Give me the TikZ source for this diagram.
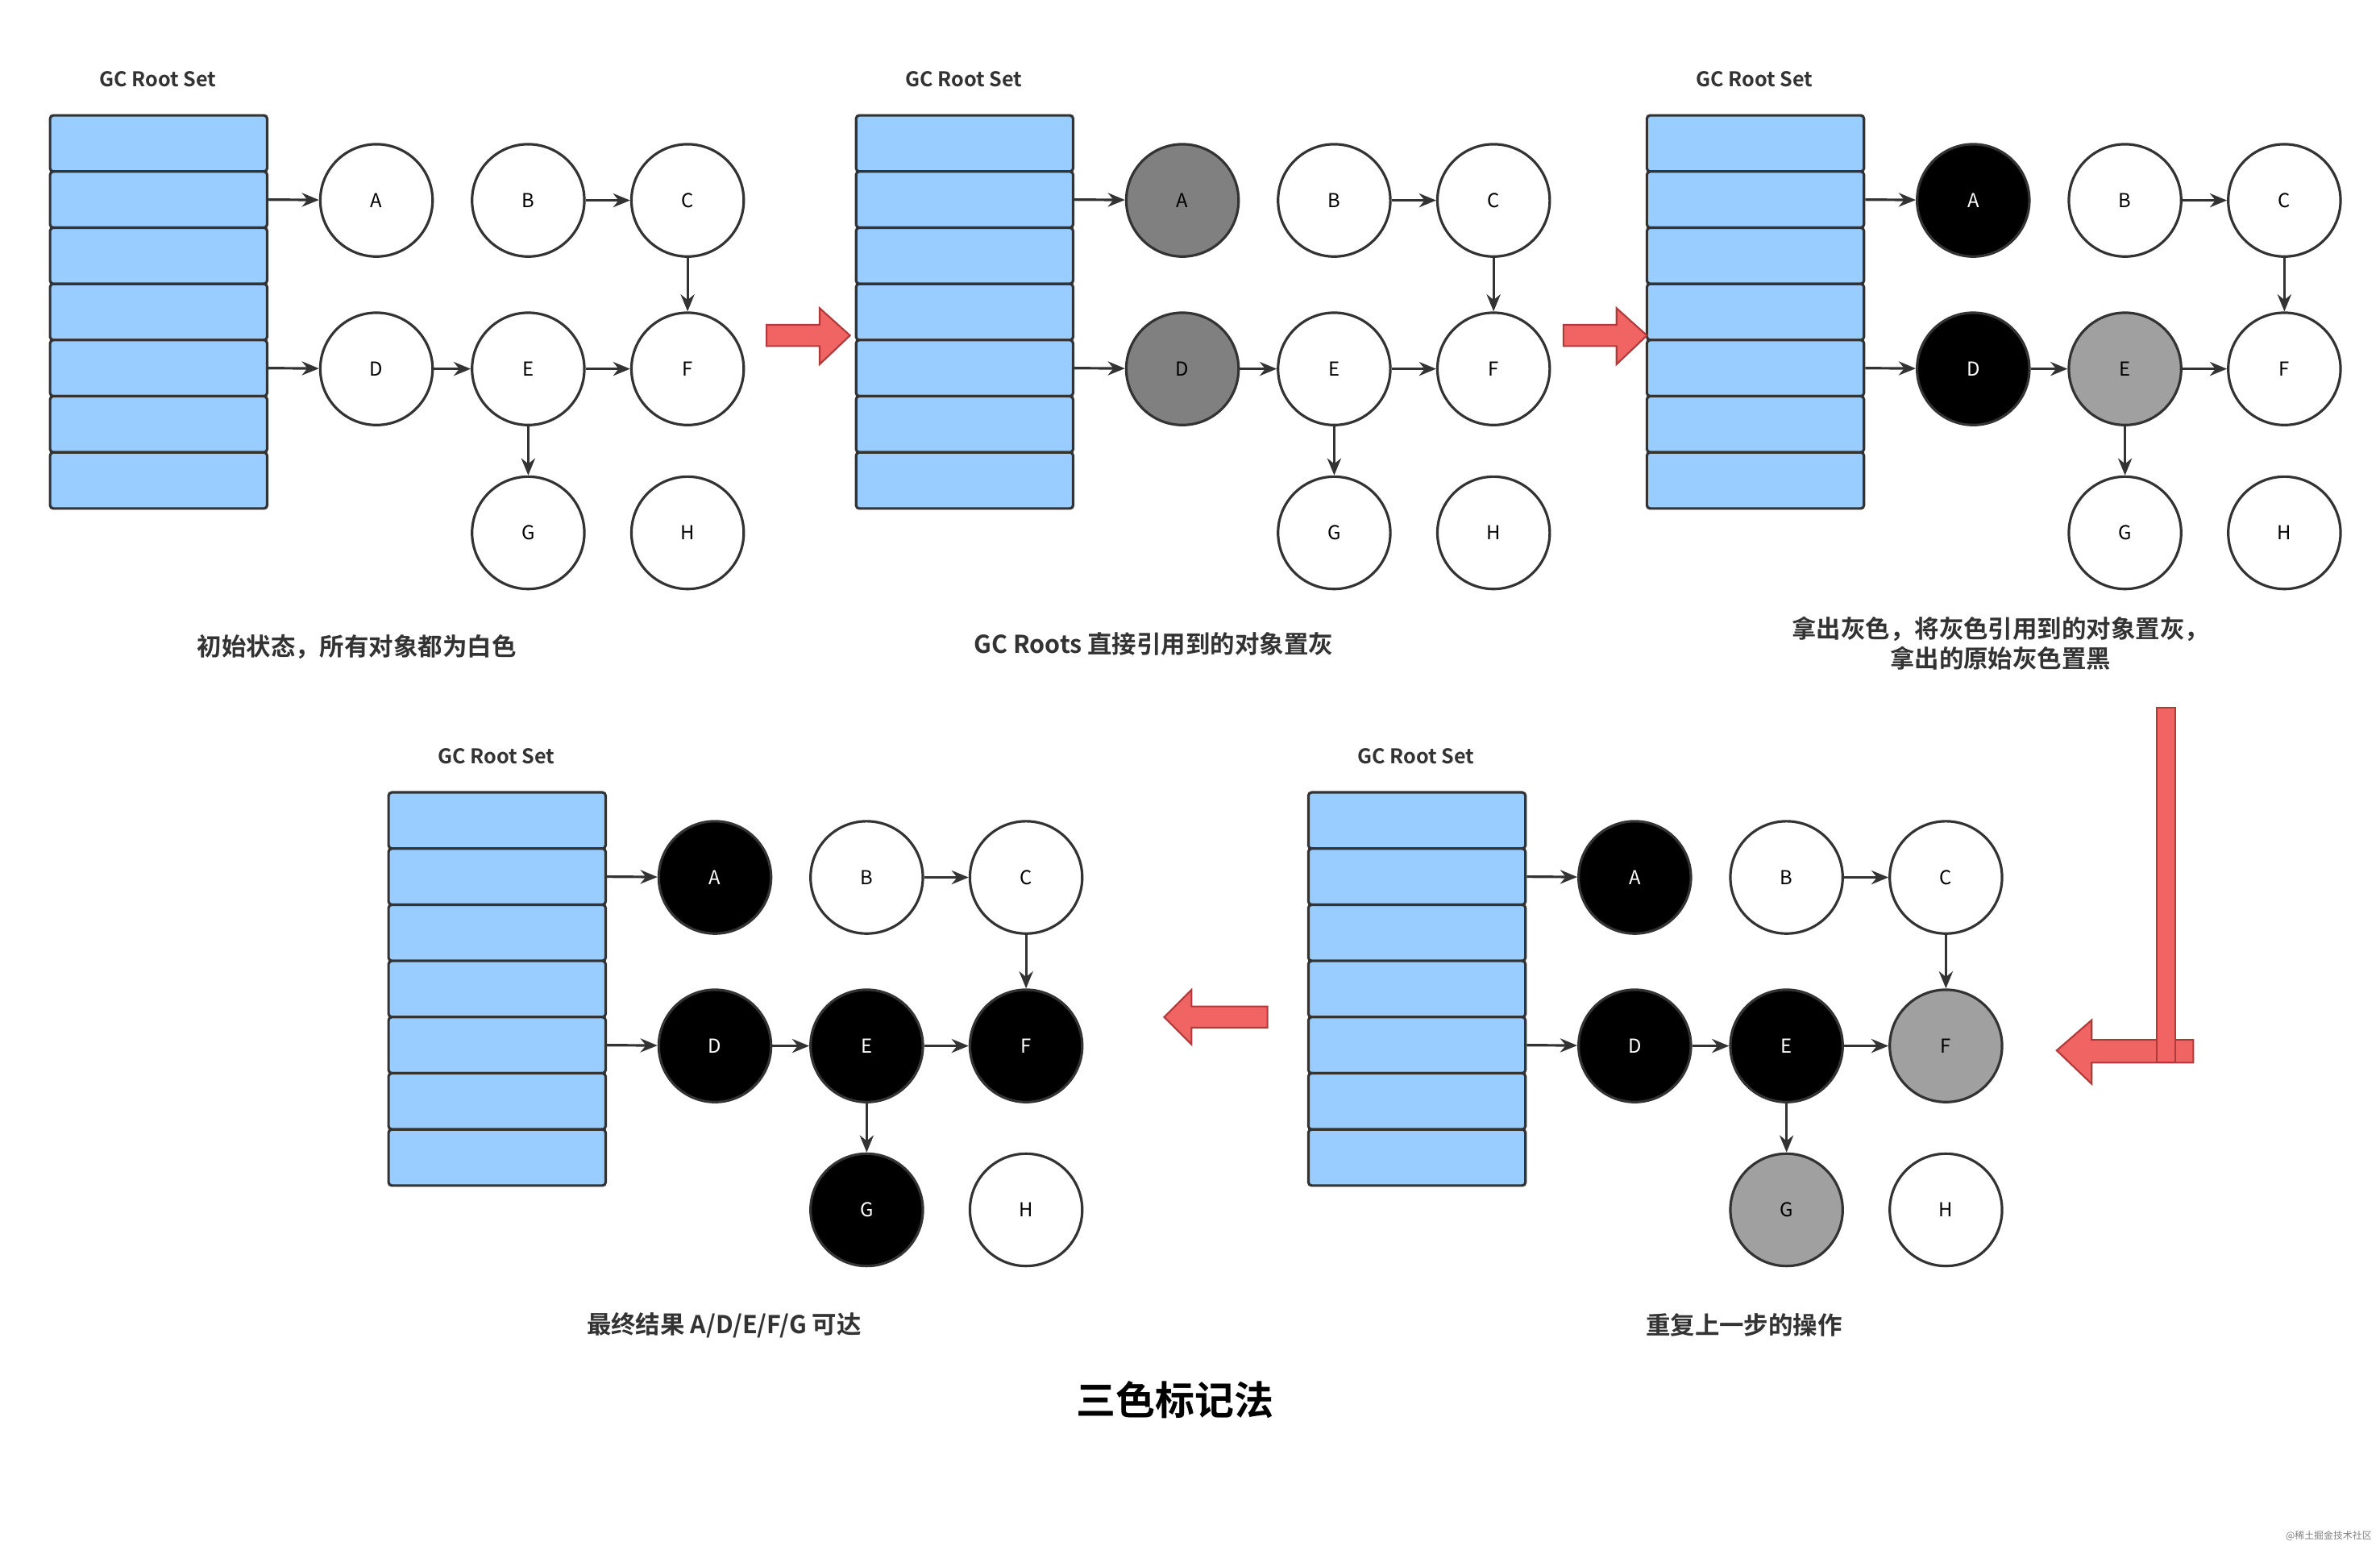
\documentclass[tikz,border=0pt]{standalone}
\usepackage{fontspec}
\setmainfont{Noto Sans CJK SC}
\newfontfamily\cjkb{Noto Sans CJK SC Bold}
\usetikzlibrary{arrows.meta}
\definecolor{rowc}{HTML}{99CCFF}
\definecolor{edge}{HTML}{333333}
\definecolor{redf}{HTML}{F06464}
\definecolor{redd}{HTML}{B03A3A}
\tikzset{
 row/.style={draw=edge,line width=2.4pt,fill=rowc,rounded corners=3pt,minimum width=7.15cm,minimum height=1.85cm,inner sep=0pt},
 obj/.style={circle,draw=edge,line width=2.4pt,minimum size=3.7cm,inner sep=0pt,font=\fontsize{18}{20}\selectfont},
 wn/.style={obj,fill=white},
 gn/.style={obj,fill={rgb,255:red,128;green,128;blue,128}},
 ln/.style={obj,fill={rgb,255:red,160;green,160;blue,160}},
 bn/.style={obj,fill=black,text=white},
 con/.style={draw=edge,line width=2.4pt,-{Stealth[length=16pt,width=13pt]}},
 ttl/.style={font=\cjkb\fontsize{19}{22}\selectfont,text=edge},
 captxt/.style={font=\cjkb\fontsize{23}{28}\selectfont,text=edge,align=center},
 redarr/.style={fill=redf,draw=redd,line width=1.6pt,line join=miter}
}
\newcommand\panel[8]{%
\begin{scope}[shift={(#2,#3)}]
\node[ttl] (#1t) at (104,52) {GC Root Set};
\foreach \i in {1,...,7} \node[row] (#1r\i) at (104.5,{94.5+37*(\i-1)}) {};
\node[#4] (#1A) at (248,132) {A};
\node[wn] (#1B) at (348,132) {B};
\node[wn] (#1C) at (453,132) {C};
\node[#5] (#1D) at (248,243) {D};
\node[#6] (#1E) at (348,243) {E};
\node[#7] (#1F) at (453,243) {F};
\node[#8] (#1G) at (348,351) {G};
\node[wn] (#1H) at (453,351) {H};
\draw[con] (#1r2.east) -- (#1A);
\draw[con] (#1r5.east) -- (#1D);
\draw[con] (#1B) -- (#1C);
\draw[con] (#1C) -- (#1F);
\draw[con] (#1D) -- (#1E);
\draw[con] (#1E) -- (#1F);
\draw[con] (#1E) -- (#1G);
\end{scope}}
\begin{document}
\begin{tikzpicture}[x=0.05cm,y=-0.05cm]
\path[use as bounding box,fill=white] (0,0) rectangle (1568,1021);
\panel{p}{0}{0}{wn}{wn}{wn}{wn}{wn}
\panel{q}{531}{0}{gn}{gn}{wn}{wn}{wn}
\panel{s}{1052}{0}{bn}{bn}{ln}{wn}{wn}
\panel{u}{223}{446}{bn}{bn}{bn}{bn}{bn}
\panel{v}{829}{446}{bn}{bn}{bn}{ln}{ln}
\node[captxt] (c1) at (235,426) {初始状态，所有对象都为白色};
\node[captxt] (c2) at (760,424) {GC Roots 直接引用到的对象置灰};
\node[captxt] (c3) at (1318,424) {拿出灰色，将灰色引用到的对象置灰，\\拿出的原始灰色置黑};
\node[captxt] (c4) at (477,873) {最终结果 A/D/E/F/G 可达};
\node[captxt] (c5) at (1149,873) {重复上一步的操作};
\node[font=\cjkb\fontsize{37}{40}\selectfont,text=black] (tt) at (774,922) {三色标记法};
\node[font=\fontsize{9}{10}\selectfont,text=gray,anchor=east] (wm) at (1565,1012) {@稀土掘金技术社区};
\draw[redarr] (505,214) -- (540,214) -- (540,203) -- (560,221) -- (540,240) -- (540,228) -- (505,228) -- cycle;
\draw[redarr] (1030,214) -- (1065,214) -- (1065,203) -- (1085,221) -- (1065,240) -- (1065,228) -- (1030,228) -- cycle;
\draw[redarr] (1445,685) -- (1378,685) -- (1378,672) -- (1355,692) -- (1378,714) -- (1378,700) -- (1445,700) -- cycle;
\draw[redarr] (1421,466) rectangle (1433,700);
\draw[redarr] (835,663) -- (785,663) -- (785,652) -- (767,670) -- (785,688) -- (785,677) -- (835,677) -- cycle;
\end{tikzpicture}
\end{document}
